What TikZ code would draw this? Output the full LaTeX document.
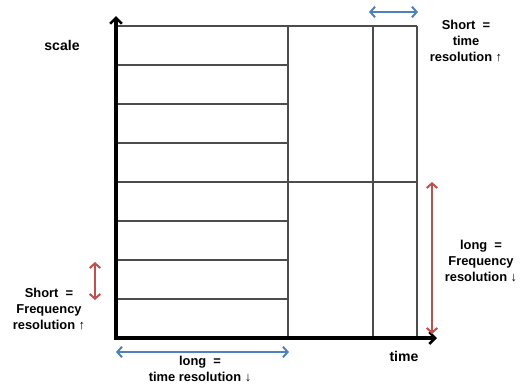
\documentclass[tikz,border=0pt]{standalone}
\usepackage{fontspec}
\setmainfont{Liberation Sans}
\usetikzlibrary{arrows.meta,positioning}
\definecolor{spanblue}{RGB}{79,129,189}
\definecolor{spanred}{RGB}{192,80,77}

\begin{document}
\begin{tikzpicture}[
			x=0.03cm,y=-0.03cm,
			axis/.style={
				line width=2.8pt,
				draw=black,
				-{Straight Barb[length=5pt,width=10pt,line width=2.2pt]}
			},
			cell/.style={
				line width=1pt,
				draw=black!70
			},
			span/.style={
				line width=1.7pt,
				{Straight Barb[length=4pt,width=9pt]}-{Straight Barb[length=4pt,width=9pt]}
			},
			lbl/.style={
				align=center,
				inner sep=1pt,
				font=\fontsize{11}{13.6}\selectfont\bfseries
			}
			]
			
			\useasboundingbox (0,0) rectangle (527,384);
			
			% Corners of the plane
			\coordinate (origin) at (116,338);
			\coordinate (ytop) at (116,16);
			\coordinate (xend) at (437,338);
			
			% Tiles: left column
			\foreach \y in {65,104,...,299}
			\draw[cell] (116,\y) -- (288,\y);
			\draw[cell] (116,26) -- (417,26);
			\draw[cell] (288,182) -- (417,182);
			\draw[cell] (288,26) -- (288,338);
			\draw[cell] (373,26) -- (373,338);
			\draw[cell] (417,26) -- (417,338);
			
			% Axes
			\draw[axis] ([yshift=-1.4pt]origin) -- (ytop);
			\draw[axis] ([xshift=-1.4pt]origin) -- (xend);
			
			\node[lbl,font=\fontsize{12}{14}\selectfont\bfseries] (scalelbl) at (62,45) {scale};
			\node[lbl,font=\fontsize{12}{14}\selectfont\bfseries] (timelbl) at (404,356) {time};
			
			% Window widths
			\coordinate (tsa) at (369,12);
			\coordinate (tsb) at (418,12);
			\draw[span,spanblue] (tsa) -- (tsb);
			
			\coordinate (tla) at (116,352);
			\coordinate (tlb) at (289,352);
			\draw[span,spanblue] (tla) -- (tlb);
			
			\coordinate (fsa) at (95,262);
			\coordinate (fsb) at (95,300);
			\draw[span,spanred] (fsa) -- (fsb);
			
			\coordinate (fla) at (432,182);
			\coordinate (flb) at (432,334);
			\draw[span,spanred] (fla) -- (flb);
			
			% Texts
			\node[lbl] (shorttime) at (466,41) {Short\ \ =\\time\\resolution ↑};
			\node[lbl] (shortfreq) at (49,309) {Short\ \ =\\Frequency\\resolution ↑};
			\node[lbl] (longtime) at (200,369) {long\ \ =\\time resolution ↓};
			\node[lbl] (longfreq) at (481,261) {long\ \ =\\Frequency\\resolution ↓};
			
		\end{tikzpicture}
\end{document}
